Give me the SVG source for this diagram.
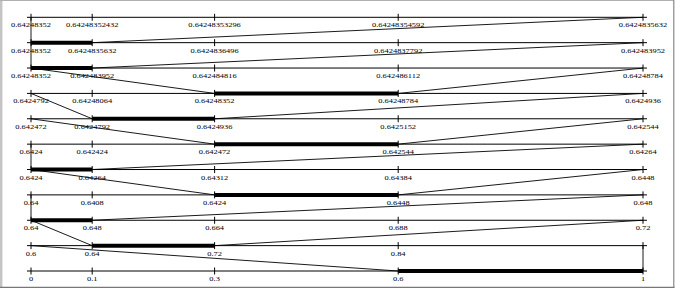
<svg xmlns="http://www.w3.org/2000/svg" width="675" height="289" viewBox="0 0 675 289">
<style>
.ax{fill:none;stroke:#000;stroke-width:1}
.sel{fill:none;stroke:#000;stroke-width:4}
.cn{fill:none;stroke:#000;stroke-width:0.9}
.lb{font-family:'Liberation Serif','Times New Roman',serif;font-size:7.13px;fill:#000;text-anchor:middle}
</style>
<rect width="675" height="289" fill="#fff"/>
<g id="frame" fill="none">
<line x1="1.2" y1="0" x2="1.2" y2="288" stroke="#c4c4c4" stroke-width="2.4"/>
<line x1="0" y1="0.5" x2="674" y2="0.5" stroke="#b0b0b0" stroke-width="1"/>
<line x1="673.8" y1="0" x2="673.8" y2="288" stroke="#888" stroke-width="1.2"/>
<line x1="0" y1="287.4" x2="674.4" y2="287.4" stroke="#777" stroke-width="1.2"/>
</g>
<g id="connectors">
<path class="cn" d="M398.2 271L31 245.63M643 271L643 245.63"/>
<path class="cn" d="M92.2 245.63L31 220.26M214.6 245.63L643 220.26"/>
<path class="cn" d="M31 220.26L31 194.89M92.2 220.26L643 194.89"/>
<path class="cn" d="M214.6 194.89L31 169.52M398.2 194.89L643 169.52"/>
<path class="cn" d="M31 169.52L31 144.15M92.2 169.52L643 144.15"/>
<path class="cn" d="M214.6 144.15L31 118.78M398.2 144.15L643 118.78"/>
<path class="cn" d="M92.2 118.78L31 93.41M214.6 118.78L643 93.41"/>
<path class="cn" d="M214.6 93.41L31 68.04M398.2 93.41L643 68.04"/>
<path class="cn" d="M31 68.04L31 42.67M92.2 68.04L643 42.67"/>
<path class="cn" d="M31 42.67L31 17.3M92.2 42.67L643 17.3"/>
</g>
<g id="row0">
<path class="ax" d="M27 271H647M31 267.5v7M92.2 267.5v7M214.6 267.5v7M398.2 267.5v7M643 267.5v7"/>
<path class="sel" d="M398.2 271H643"/>
<g class="lb" transform="scale(1.18 1)"><text x="26.27" y="281">0</text><text x="78.14" y="281">0.1</text><text x="181.86" y="281">0.3</text><text x="337.46" y="281">0.6</text><text x="544.92" y="281">1</text></g>
</g>
<g id="row1">
<path class="ax" d="M27 245.63H647M31 242.13v7M92.2 242.13v7M214.6 242.13v7M398.2 242.13v7M643 242.13v7"/>
<path class="sel" d="M92.2 245.63H214.6"/>
<g class="lb" transform="scale(1.18 1)"><text x="26.27" y="255.63">0.6</text><text x="78.14" y="255.63">0.64</text><text x="181.86" y="255.63">0.72</text><text x="337.46" y="255.63">0.84</text></g>
</g>
<g id="row2">
<path class="ax" d="M27 220.26H647M31 216.76v7M92.2 216.76v7M214.6 216.76v7M398.2 216.76v7M643 216.76v7"/>
<path class="sel" d="M31 220.26H92.2"/>
<g class="lb" transform="scale(1.18 1)"><text x="26.27" y="230.26">0.64</text><text x="78.14" y="230.26">0.648</text><text x="181.86" y="230.26">0.664</text><text x="337.46" y="230.26">0.688</text><text x="544.92" y="230.26">0.72</text></g>
</g>
<g id="row3">
<path class="ax" d="M27 194.89H647M31 191.39v7M92.2 191.39v7M214.6 191.39v7M398.2 191.39v7M643 191.39v7"/>
<path class="sel" d="M214.6 194.89H398.2"/>
<g class="lb" transform="scale(1.18 1)"><text x="26.27" y="204.89">0.64</text><text x="78.14" y="204.89">0.6408</text><text x="181.86" y="204.89">0.6424</text><text x="337.46" y="204.89">0.6448</text><text x="544.92" y="204.89">0.648</text></g>
</g>
<g id="row4">
<path class="ax" d="M27 169.52H647M31 166.02v7M92.2 166.02v7M214.6 166.02v7M398.2 166.02v7M643 166.02v7"/>
<path class="sel" d="M31 169.52H92.2"/>
<g class="lb" transform="scale(1.18 1)"><text x="26.27" y="179.52">0.6424</text><text x="78.14" y="179.52">0.64264</text><text x="181.86" y="179.52">0.64312</text><text x="337.46" y="179.52">0.64384</text><text x="544.92" y="179.52">0.6448</text></g>
</g>
<g id="row5">
<path class="ax" d="M27 144.15H647M31 140.65v7M92.2 140.65v7M214.6 140.65v7M398.2 140.65v7M643 140.65v7"/>
<path class="sel" d="M214.6 144.15H398.2"/>
<g class="lb" transform="scale(1.18 1)"><text x="26.27" y="154.15">0.6424</text><text x="78.14" y="154.15">0.642424</text><text x="181.86" y="154.15">0.642472</text><text x="337.46" y="154.15">0.642544</text><text x="544.92" y="154.15">0.64264</text></g>
</g>
<g id="row6">
<path class="ax" d="M27 118.78H647M31 115.28v7M92.2 115.28v7M214.6 115.28v7M398.2 115.28v7M643 115.28v7"/>
<path class="sel" d="M92.2 118.78H214.6"/>
<g class="lb" transform="scale(1.18 1)"><text x="26.27" y="128.78">0.642472</text><text x="78.14" y="128.78">0.6424792</text><text x="181.86" y="128.78">0.6424936</text><text x="337.46" y="128.78">0.6425152</text><text x="544.92" y="128.78">0.642544</text></g>
</g>
<g id="row7">
<path class="ax" d="M27 93.41H647M31 89.91v7M92.2 89.91v7M214.6 89.91v7M398.2 89.91v7M643 89.91v7"/>
<path class="sel" d="M214.6 93.41H398.2"/>
<g class="lb" transform="scale(1.18 1)"><text x="26.27" y="103.41">0.6424792</text><text x="78.14" y="103.41">0.64248064</text><text x="181.86" y="103.41">0.64248352</text><text x="337.46" y="103.41">0.64248784</text><text x="544.92" y="103.41">0.6424936</text></g>
</g>
<g id="row8">
<path class="ax" d="M27 68.04H647M31 64.54v7M92.2 64.54v7M214.6 64.54v7M398.2 64.54v7M643 64.54v7"/>
<path class="sel" d="M31 68.04H92.2"/>
<g class="lb" transform="scale(1.18 1)"><text x="26.27" y="78.04">0.64248352</text><text x="78.14" y="78.04">0.642483952</text><text x="181.86" y="78.04">0.642484816</text><text x="337.46" y="78.04">0.642486112</text><text x="544.92" y="78.04">0.64248784</text></g>
</g>
<g id="row9">
<path class="ax" d="M27 42.67H647M31 39.17v7M92.2 39.17v7M214.6 39.17v7M398.2 39.17v7M643 39.17v7"/>
<path class="sel" d="M31 42.67H92.2"/>
<g class="lb" transform="scale(1.18 1)"><text x="26.27" y="52.67">0.64248352</text><text x="78.14" y="52.67">0.6424835632</text><text x="181.86" y="52.67">0.6424836496</text><text x="337.46" y="52.67">0.6424837792</text><text x="544.92" y="52.67">0.642483952</text></g>
</g>
<g id="row10">
<path class="ax" d="M27 17.3H647M31 13.8v7M92.2 13.8v7M214.6 13.8v7M398.2 13.8v7M643 13.8v7"/>
<g class="lb" transform="scale(1.18 1)"><text x="26.27" y="27.3">0.64248352</text><text x="78.14" y="27.3">0.64248352432</text><text x="181.86" y="27.3">0.64248353296</text><text x="337.46" y="27.3">0.64248354592</text><text x="544.92" y="27.3">0.6424835632</text></g>
</g>
</svg>
